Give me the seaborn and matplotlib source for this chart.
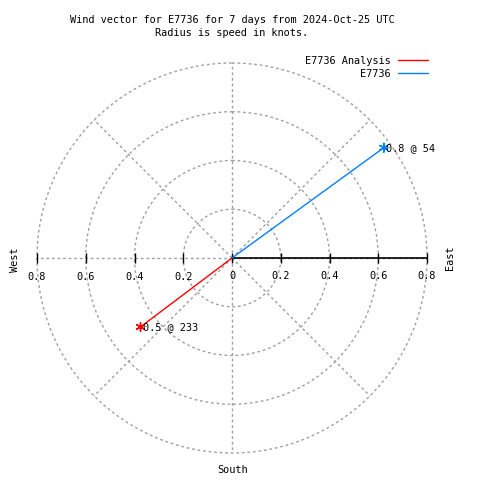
import numpy as np
import pandas as pd
import matplotlib
matplotlib.use("Agg")
import matplotlib.pyplot as plt
import seaborn as sns

# wind vectors
series = ["E7736 Analysis", "E7736"]
speeds = [0.47, 0.77]          # knots
directions = [233, 54]         # degrees, clockwise from north
colors = ["#ff0000", "#0080ff"]
r_ticks = [0.2, 0.4, 0.6, 0.8]
tick_labels = ["0", "0.2", "0.4", "0.6", "0.8"]

sns.set_style("white")
plt.rcParams["font.family"] = ["DejaVu Sans Mono"]
plt.rcParams["font.size"] = 7.4
plt.rcParams["text.color"] = "black"

fig = plt.figure(figsize=(4.8, 4.8), dpi=100)
ax = fig.add_axes([37 / 480, 27 / 480, 390 / 480, 390 / 480], projection="polar")
ax.set_theta_zero_location("N")
ax.set_theta_direction(-1)

# one row per vector end: origin then tip
rows = []
for name, s, d in zip(series, speeds, directions):
    rows.append({"series": name, "theta": 0.0, "r": 0.0})
    rows.append({"series": name, "theta": np.deg2rad(d), "r": s})
df = pd.DataFrame(rows)
pal = dict(zip(series, colors))

sns.lineplot(data=df, x="theta", y="r", hue="series", palette=pal,
             sort=False, estimator=None, linewidth=1, ax=ax, zorder=4)

tips = df[df["r"] > 0]
sns.scatterplot(data=tips, x="theta", y="r", hue="series", palette=pal,
                marker=(6, 2, 0), s=40, linewidth=1, legend=False, ax=ax, zorder=5)

for name, s, d in zip(series, speeds, directions):
    ax.annotate(f"{s:.1f} @ {d}", xy=(np.deg2rad(d), s), xytext=(1.5, 0),
                textcoords="offset points", ha="left", va="center", zorder=6)

ax.set_ylim(0, 0.8)
ax.set_yticks(r_ticks)
ax.set_xticks(np.deg2rad(np.arange(0, 360, 45)))
ax.set_xticklabels([])
ax.set_yticklabels([])
ax.set_xlabel("")
ax.set_ylabel("")
ax.grid(True, color="#a0a0a0", linestyle=(0, (2, 2)), linewidth=1)
for gl in ax.yaxis.get_gridlines():
    gl.set_clip_on(False)
ax.spines["polar"].set_visible(False)

# solid east axis with ticks, tick marks on the west side as well
r_all = [0] + r_ticks
ax.plot([np.pi / 2, np.pi / 2], [0, 0.8], color="black", linewidth=1.2, zorder=3)
ax.plot([np.pi / 2] * 5, r_all, linestyle="none", marker="|", markersize=7,
        markeredgewidth=1, color="black", zorder=3, clip_on=False)
ax.plot([3 * np.pi / 2] * 4, r_ticks, linestyle="none", marker="|", markersize=7,
        markeredgewidth=1, color="black", zorder=3, clip_on=False)
for r, lab in zip(r_all, tick_labels):
    ax.annotate(lab, xy=(np.pi / 2, r), xytext=(0, -13), textcoords="offset points",
                ha="center", va="center", annotation_clip=False)
for r, lab in zip(r_ticks, tick_labels[1:]):
    ax.annotate(lab, xy=(3 * np.pi / 2, r), xytext=(0, -13.5), textcoords="offset points",
                ha="center", va="center", annotation_clip=False)

leg = ax.legend(loc="upper right", bbox_to_anchor=(428 / 480, 1 - 56 / 480),
                bbox_transform=fig.transFigure, frameon=False, markerfirst=False,
                handlelength=2.9, handletextpad=0.7, labelspacing=0.25,
                borderaxespad=0, borderpad=0, title=None)

fig.text(232 / 480, 1 - 20 / 480, "Wind vector for E7736 for 7 days from 2024-Oct-25 UTC",
         ha="center", va="center")
fig.text(232 / 480, 1 - 33 / 480, "Radius is speed in knots.", ha="center", va="center")
fig.text(15 / 480, 1 - 260 / 480, "West", rotation=90, ha="center", va="center")
fig.text(450 / 480, 1 - 258 / 480, "East", rotation=90, ha="center", va="center")
fig.text(233 / 480, 1 - 470 / 480, "South", ha="center", va="center")

fig.savefig("out.png", dpi=100)
